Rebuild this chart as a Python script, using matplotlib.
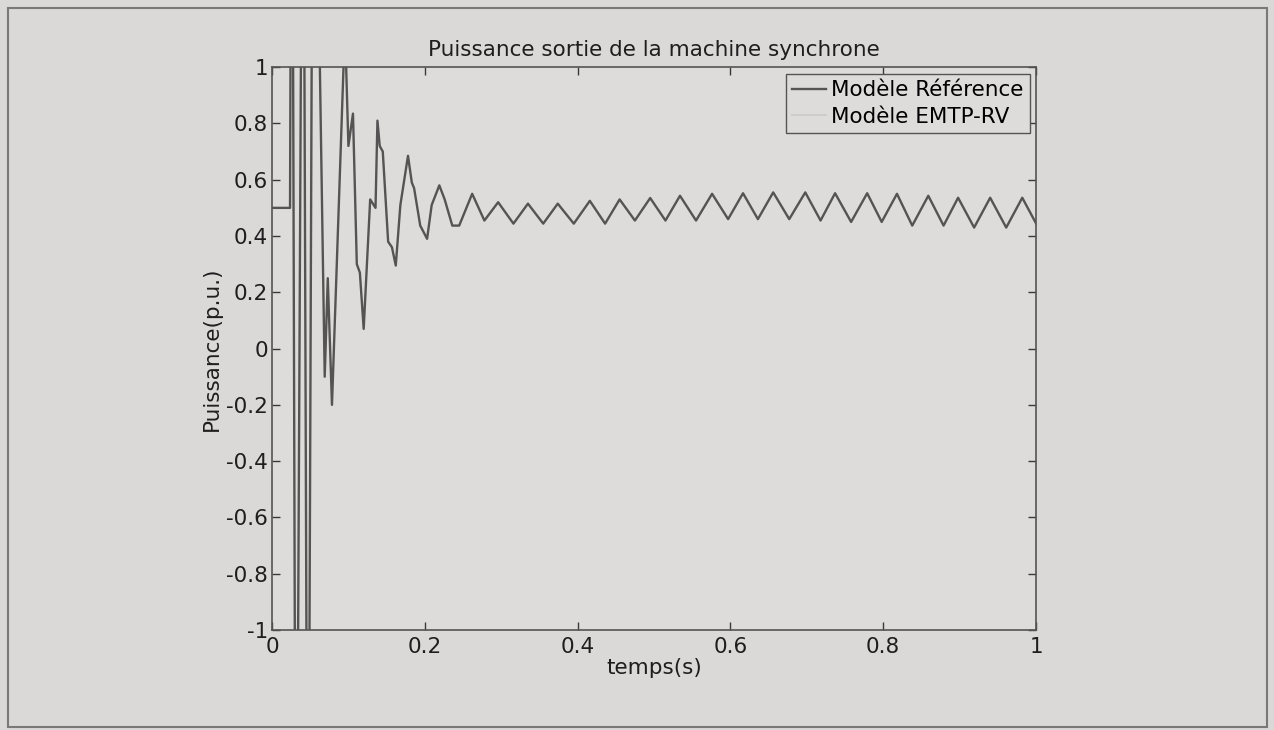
import matplotlib.pyplot as plt
from matplotlib.patches import Rectangle

# Modele Reference : points (temps en s, puissance en p.u.)
ref_t = [0.0, 0.0236, 0.026, 0.0315, 0.0405, 0.047, 0.054, 0.069, 0.073, 0.0785,
         0.0955, 0.100, 0.106, 0.111, 0.115, 0.120, 0.1285, 0.1355, 0.138, 0.141,
         0.145, 0.152, 0.157, 0.162, 0.168, 0.178, 0.183, 0.186, 0.194, 0.203,
         0.209, 0.219, 0.226, 0.236, 0.245, 0.262, 0.278, 0.296, 0.316, 0.335,
         0.355, 0.374, 0.395, 0.416, 0.436, 0.455, 0.475, 0.495, 0.515, 0.534,
         0.555, 0.576, 0.597, 0.6165, 0.636, 0.656, 0.677, 0.698, 0.718, 0.737,
         0.758, 0.779, 0.798, 0.818, 0.838, 0.859, 0.879, 0.898, 0.919, 0.940,
         0.961, 0.982, 1.0]
ref_p = [0.5, 0.5, 2.5, -2.5, 2.5, -2.5, 2.5, -0.1, 0.25, -0.2,
         1.15, 0.72, 0.835, 0.30, 0.27, 0.07, 0.53, 0.50, 0.81, 0.72,
         0.70, 0.38, 0.36, 0.295, 0.51, 0.685, 0.59, 0.57, 0.437, 0.39,
         0.51, 0.58, 0.53, 0.437, 0.437, 0.55, 0.455, 0.52, 0.444, 0.515,
         0.444, 0.515, 0.444, 0.525, 0.444, 0.53, 0.455, 0.535, 0.455, 0.543,
         0.455, 0.55, 0.46, 0.552, 0.46, 0.555, 0.46, 0.555, 0.455, 0.552,
         0.45, 0.552, 0.45, 0.55, 0.437, 0.543, 0.437, 0.536, 0.43, 0.536,
         0.43, 0.536, 0.445]

# Modele EMTP-RV : trace tres pale, seul le debut est lisible
emtp_t = [0.0, 0.022]
emtp_p = [0.5, 0.5]

x_ticks = [0, 0.2, 0.4, 0.6, 0.8, 1]
x_labels = ['0', '0.2', '0.4', '0.6', '0.8', '1']
y_ticks = [-1, -0.8, -0.6, -0.4, -0.2, 0, 0.2, 0.4, 0.6, 0.8, 1]
y_labels = ['-1', '-0.8', '-0.6', '-0.4', '-0.2', '0', '0.2', '0.4', '0.6', '0.8', '1']

plt.rcParams['font.family'] = ['DejaVu Sans']
fs = 15.5

fig = plt.figure(figsize=(12.74, 7.3), dpi=100, facecolor='#dbd8d8')
fig.patches.append(Rectangle((8 / 1274, 3 / 730), 1259 / 1274, 719 / 730,
                             transform=fig.transFigure, fill=False,
                             edgecolor='#7a7878', linewidth=1.5))
ax = fig.add_axes([0.2135, 0.137, 0.5997, 0.771])
ax.set_facecolor('#dedbdb')

ax.plot(emtp_t, emtp_p, color='#cfcccc', linewidth=1.4, label='Modèle EMTP-RV', zorder=2)
ax.plot(ref_t, ref_p, color='#555353', linewidth=1.7, label='Modèle Référence', zorder=3)

ax.set_xlim(0, 1)
ax.set_ylim(-1, 1)
ax.set_xticks(x_ticks)
ax.set_xticklabels(x_labels)
ax.set_yticks(y_ticks)
ax.set_yticklabels(y_labels)
ax.tick_params(direction='in', length=6, width=1, top=True, right=True,
               labelsize=fs, colors='#3a3838', labelcolor='#1e1e1e')
ax.tick_params(axis='x', pad=5)
ax.tick_params(axis='y', pad=3)
for s in ax.spines.values():
    s.set_color('#555353')
    s.set_linewidth(1.2)

ax.set_title('Puissance sortie de la machine synchrone', fontsize=fs, color='#1e1e1e', pad=8)
ax.set_xlabel('temps(s)', fontsize=fs, color='#1e1e1e', labelpad=1)
ax.set_ylabel('Puissance(p.u.)', fontsize=fs, color='#1e1e1e', labelpad=3)

handles, labels = ax.get_legend_handles_labels()
leg = ax.legend(handles[::-1], labels[::-1], loc='upper right', fontsize=fs,
                frameon=True, fancybox=False, edgecolor='#555353',
                facecolor='#dedbdb', framealpha=1, borderpad=0.3,
                labelspacing=0.3, handlelength=1.6, handletextpad=0.2,
                borderaxespad=0.3)
leg.get_frame().set_linewidth(1.0)

fig.savefig('out.png', dpi=100, facecolor=fig.get_facecolor())
